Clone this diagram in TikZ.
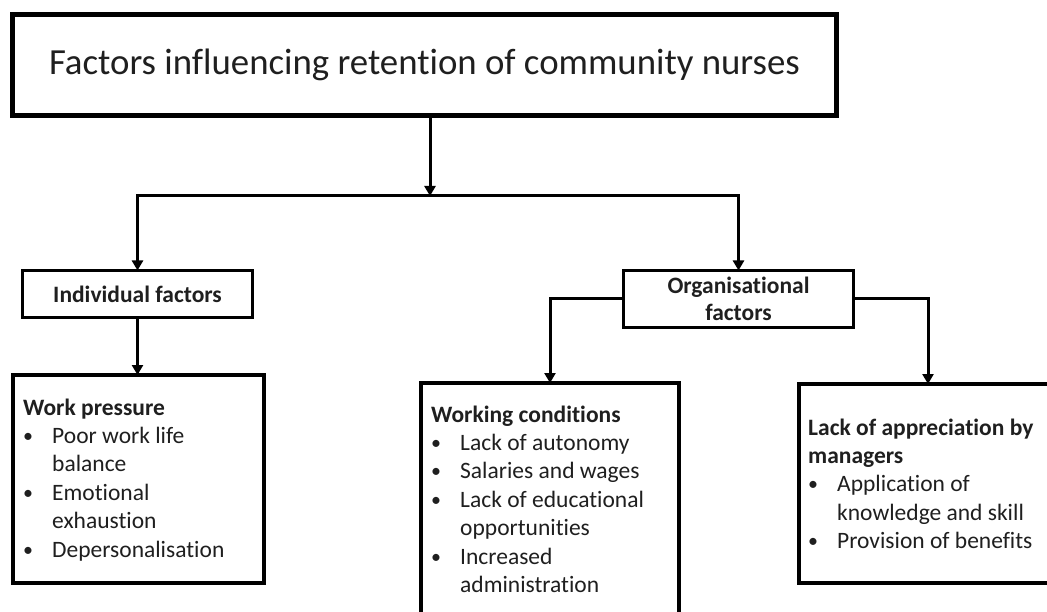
\documentclass[tikz,border=0pt]{standalone}
\usepackage{fontspec}
\setmainfont{Carlito}[RawFeature={-liga;-clig;-dlig;-calt}]
\usetikzlibrary{arrows.meta}
\newcommand\bitem{\makebox[29pt][l]{\raisebox{1pt}{\scalebox{0.85}{\textbullet}}}}
\newcommand\bcont{\hspace*{29pt}}
\tikzset{
  box/.style={draw=black, fill=white, inner sep=0pt, outer sep=0pt},
  arr/.style={draw=black, line width=3pt, -{Triangle[width=11pt,length=10pt]}},
  lst/.style={anchor=base west, inner sep=0pt, text=black!88},
  body/.style={font=\fontsize{23.5}{28.4}\selectfont}
}
\begin{document}
\begin{tikzpicture}[x=1pt,y=1pt]
\useasboundingbox (0,0) rectangle (1047,-612);
% boxes
\node[box, line width=5pt, minimum width=824pt, minimum height=101pt,
      font=\fontsize{36.8}{44}\selectfont, text=black!88] (title) at (424.5,-65)
      {Factors influencing retention of community nurses};
\node[box, line width=3pt, minimum width=230pt, minimum height=47pt,
      font=\fontsize{23.5}{28}\selectfont\bfseries, text=black!88] (ind) at (137.5,-294)
      {Individual factors};
\node[box, line width=3pt, minimum width=230pt, minimum height=57pt, align=center,
      font=\fontsize{23.5}{26.5}\selectfont\bfseries, text=black!88] (org) at (738.5,-299)
      {Organisational\\factors};
\node[box, line width=4pt, minimum width=251pt, minimum height=208pt] (wp) at (138.5,-479) {};
\node[box, line width=4pt, minimum width=258pt, minimum height=247pt] (wc) at (550,-506.5) {};
\node[box, line width=4pt, minimum width=258pt, minimum height=199pt] (lm) at (928,-483.5) {};
% texts
\node[lst, body] (wpt) at (23,-415) {\parbox[t]{240pt}{\fontsize{23.5}{28.4}\selectfont
  \textbf{Work pressure}\\
  \bitem Poor work life\\
  \bcont balance\\
  \bitem Emotional\\
  \bcont exhaustion\\
  \bitem Depersonalisation}};
\node[lst, body] (wct) at (431,-422) {\parbox[t]{245pt}{\fontsize{23.5}{28.4}\selectfont
  \textbf{Working conditions}\\
  \bitem Lack of autonomy\\
  \bitem Salaries and wages\\
  \bitem Lack of educational\\
  \bcont opportunities\\
  \bitem Increased\\
  \bcont administration}};
\node[lst, body] (lmt) at (808,-435) {\parbox[t]{240pt}{\fontsize{23.5}{28.4}\selectfont
  \textbf{Lack of appreciation by}\\
  \textbf{managers}\\
  \bitem Application of\\
  \bcont knowledge and skill\\
  \bitem Provision of benefits}};
% connectors
\coordinate (j) at (430,-196);
\draw[arr] (title.south -| j) -- (j);
\draw[arr] (j) -| (ind.north);
\draw[arr] (j) -| (org.north);
\draw[arr] (ind.south) -- (ind.south |- wp.north);
\draw[arr] (org.west) -| (wc.north);
\draw[arr] (org.east) -| (lm.north);
\end{tikzpicture}
\end{document}
